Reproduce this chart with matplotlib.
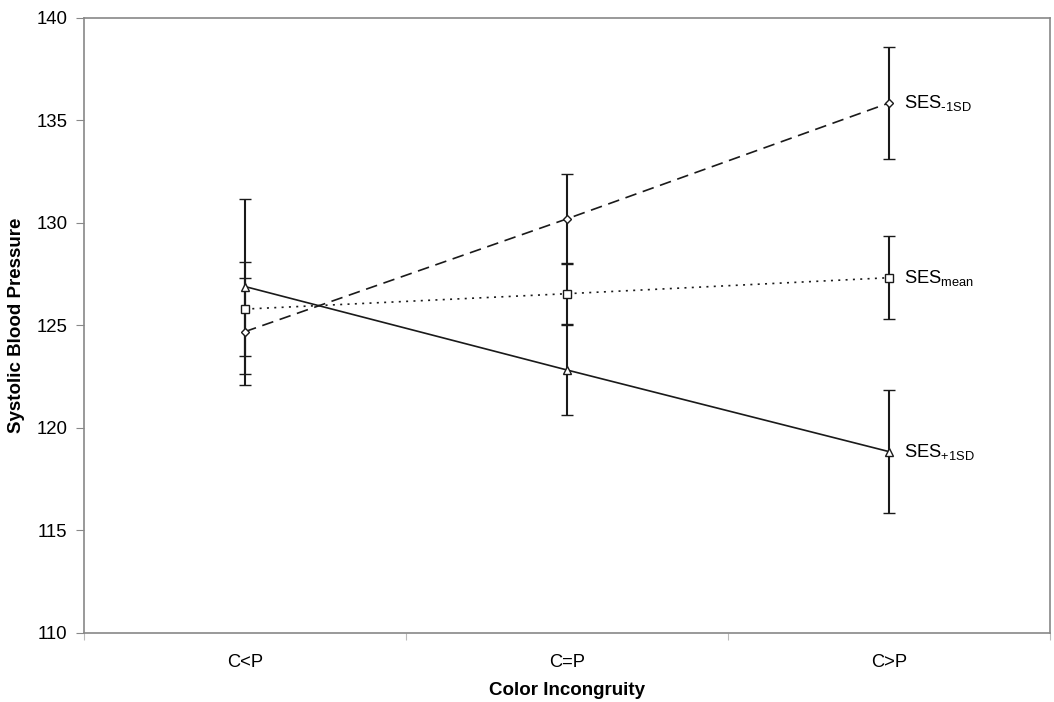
import numpy as np
import matplotlib
matplotlib.use("Agg")
import matplotlib.pyplot as plt

plt.rcParams['font.family'] = ['Liberation Sans', 'DejaVu Sans']
plt.rcParams['mathtext.default'] = 'regular'

# Daten
categories = ["C<P", "C=P", "C>P"]
ses_minus = [124.7, 130.2, 135.85]
ses_minus_err = [2.6, 2.2, 2.75]
ses_mean = [125.8, 126.55, 127.33]
ses_mean_err = [2.3, 1.5, 2.03]
ses_plus = [126.9, 122.83, 118.85]
ses_plus_err = [4.25, 2.2, 3.0]
labels = [r"SES$_{\text{-}1SD}$", "SES$_{mean}$", "SES$_{+1SD}$"]

x = np.arange(len(categories)) + 0.5

fig = plt.figure(figsize=(10.54, 7.02), dpi=100)
ax = fig.add_axes([0.0797, 0.0983, 0.9163, 0.8761])

series = [
    (ses_minus, ses_minus_err, 'D', (0, (7, 4)), 4.5),
    (ses_mean, ses_mean_err, 's', (0, (1.2, 3.2)), 5.5),
    (ses_plus, ses_plus_err, '^', '-', 5.5),
]

for (vals, err, marker, ls, ms), lab in zip(series, labels):
    ax.errorbar(x, vals, yerr=err, color='#1a1a1a', linestyle=ls, linewidth=1.2,
                marker=marker, markersize=ms, markerfacecolor='white',
                markeredgecolor='#1a1a1a', markeredgewidth=1.0,
                ecolor='#1a1a1a', elinewidth=1.5, capsize=4, capthick=1.5, zorder=3)
    ax.text(x[-1] + 0.046, vals[-1], lab, fontsize=13.2, va='center', ha='left')

ax.set_xlim(0, 3)
ax.set_ylim(110, 140)
ax.set_yticks(np.arange(110, 141, 5))
ax.set_xticks([0, 1, 2, 3])
ax.set_xticklabels([])
ax.set_xticks(x, minor=True)
ax.set_xticklabels(categories, minor=True)
ax.tick_params(axis='x', which='minor', length=0, pad=15, labelsize=13.2)
ax.tick_params(axis='x', which='major', length=5, color='#bbbbbb', direction='out')
ax.tick_params(axis='y', length=6, color='#888888', labelsize=13.4, pad=6)

for s in ax.spines.values():
    s.set_color('#888888')
    s.set_linewidth(1.2)

ax.set_xlabel("Color Incongruity", fontsize=13.5, fontweight='bold', va='center')
ax.xaxis.set_label_coords(0.5, -0.093)
ax.set_ylabel("Systolic Blood Pressure", fontsize=13.5, fontweight='bold', labelpad=8)

fig.savefig("out.png", dpi=100)
